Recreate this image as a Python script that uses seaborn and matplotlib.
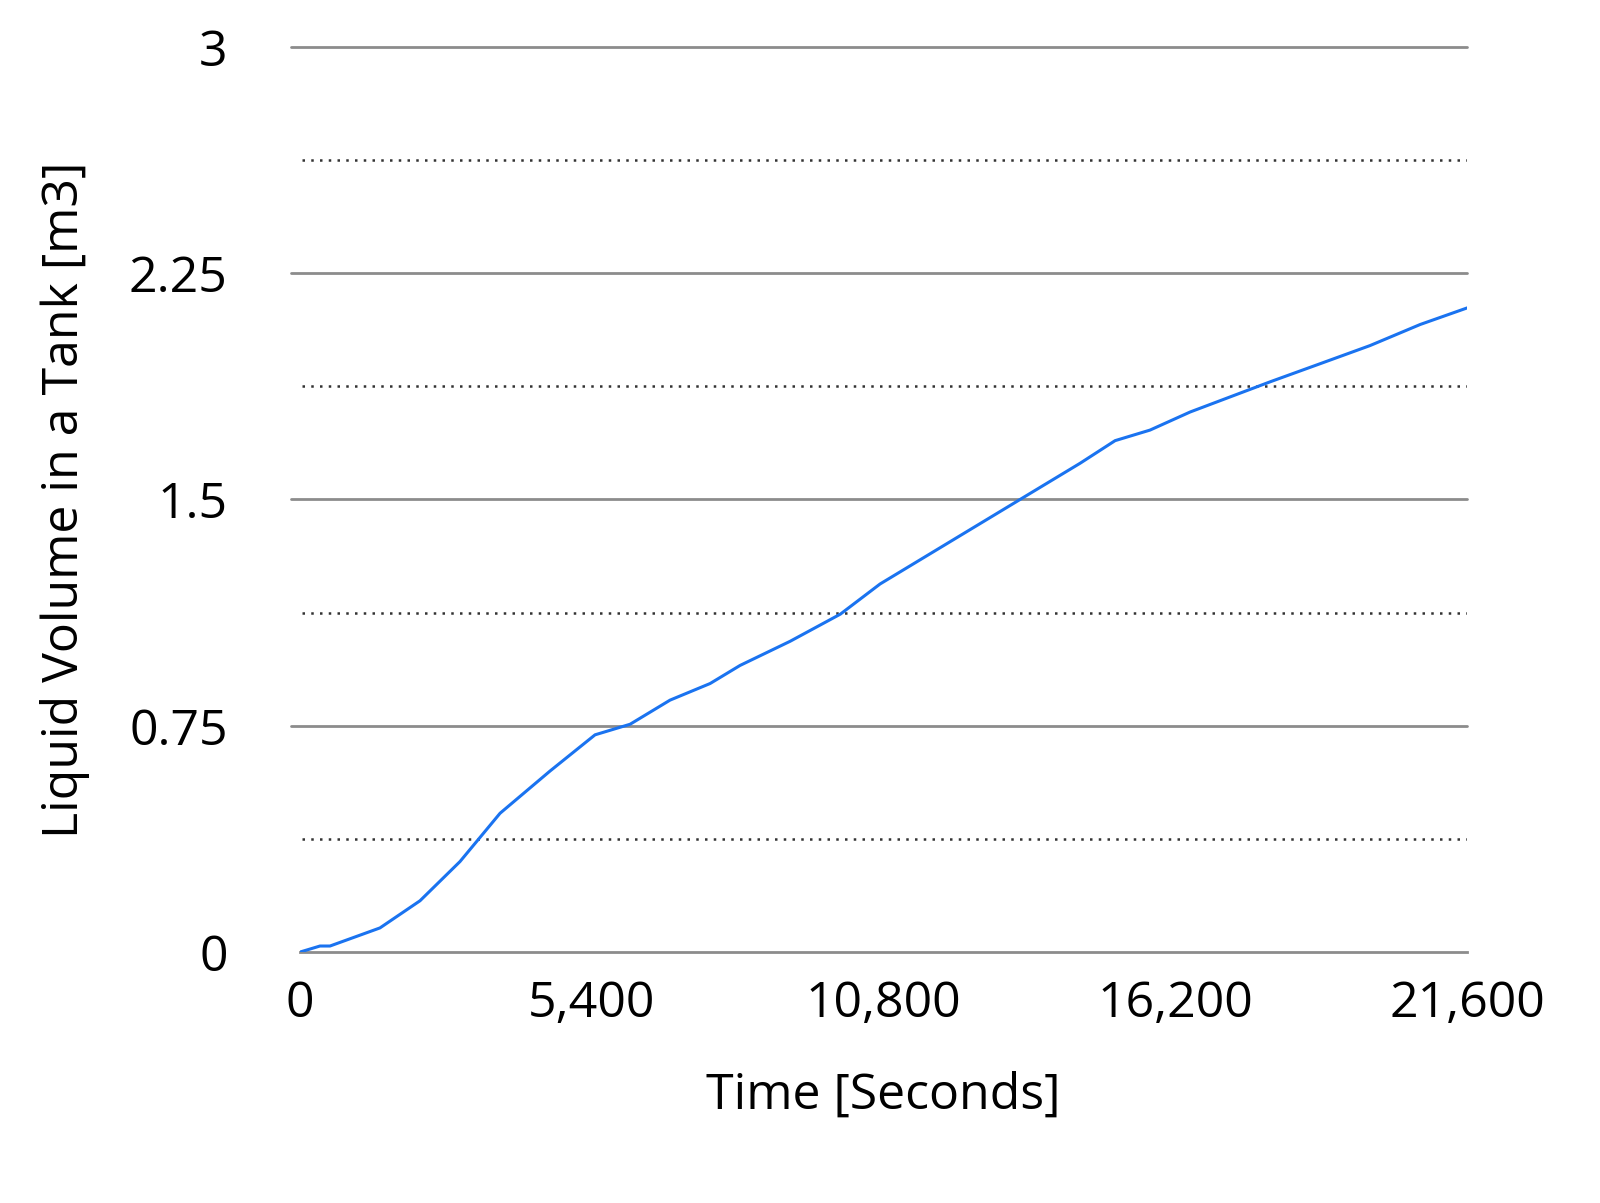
import numpy as np
import pandas as pd
import seaborn as sns
import matplotlib.pyplot as plt

# Values
time_s = [0, 370, 555, 1018, 1480, 2221, 2961, 3702, 4627, 5460, 6108, 6848, 7589,
          8144, 9070, 10000, 10735, 11660, 12585, 13695, 14436, 15084, 15730, 16473,
          17213, 17953, 18878, 19800, 20730, 21600]
volume = [0, 0.02, 0.02, 0.05, 0.08, 0.17, 0.30, 0.46, 0.60, 0.72, 0.755, 0.835, 0.89,
          0.95, 1.03, 1.12, 1.22, 1.32, 1.42, 1.54, 1.62, 1.695, 1.73, 1.79, 1.84,
          1.89, 1.95, 2.01, 2.08, 2.135]
x_ticks = [0, 5400, 10800, 16200, 21600]
y_ticks = [0, 0.75, 1.5, 2.25, 3]
y_minor = [0.375, 1.125, 1.875, 2.625]

df = pd.DataFrame({"time": time_s, "volume": volume})

sns.set_style("white")
plt.rcParams["font.family"] = ["Open Sans", "DejaVu Sans"]

fig = plt.figure(figsize=(16, 12.03), dpi=100)
ax = fig.add_axes([0.1875, 0.2086, 0.7295, 0.7524])

for y in y_ticks[1:]:
    ax.axhline(y, xmin=-0.008, color="#8c8c8c", lw=2, zorder=1, clip_on=False)
for y in y_minor:
    ax.axhline(y, xmin=0.002, color="#333333", lw=1.8, ls=(0, (1, 2.5)), zorder=1)

sns.lineplot(data=df, x="time", y="volume", ax=ax, color="#1a73f0", lw=2.2, zorder=3)

ax.set_xlim(0, 21600)
ax.set_ylim(0, 3)
ax.set_xticks(x_ticks)
ax.set_xticklabels([f"{v:,}" for v in x_ticks])
ax.set_yticks(y_ticks)
ax.set_yticklabels(["0", "0.75", "1.5", "2.25", "3"])
ax.tick_params(axis="x", length=8, width=2, color="#8c8c8c", labelsize=36,
               labelcolor="black", pad=12)
ax.tick_params(axis="y", length=0, labelsize=36, labelcolor="black", pad=52)
for s in ["top", "right", "left"]:
    ax.spines[s].set_visible(False)
ax.spines["bottom"].set_color("#8c8c8c")
ax.spines["bottom"].set_linewidth(2)
ax.set_xlabel("Time [Seconds]", fontsize=36, color="black", labelpad=30)
ax.set_ylabel("Liquid Volume in a Tank [m3]", fontsize=36, color="black", labelpad=28)

fig.savefig("out.png")
